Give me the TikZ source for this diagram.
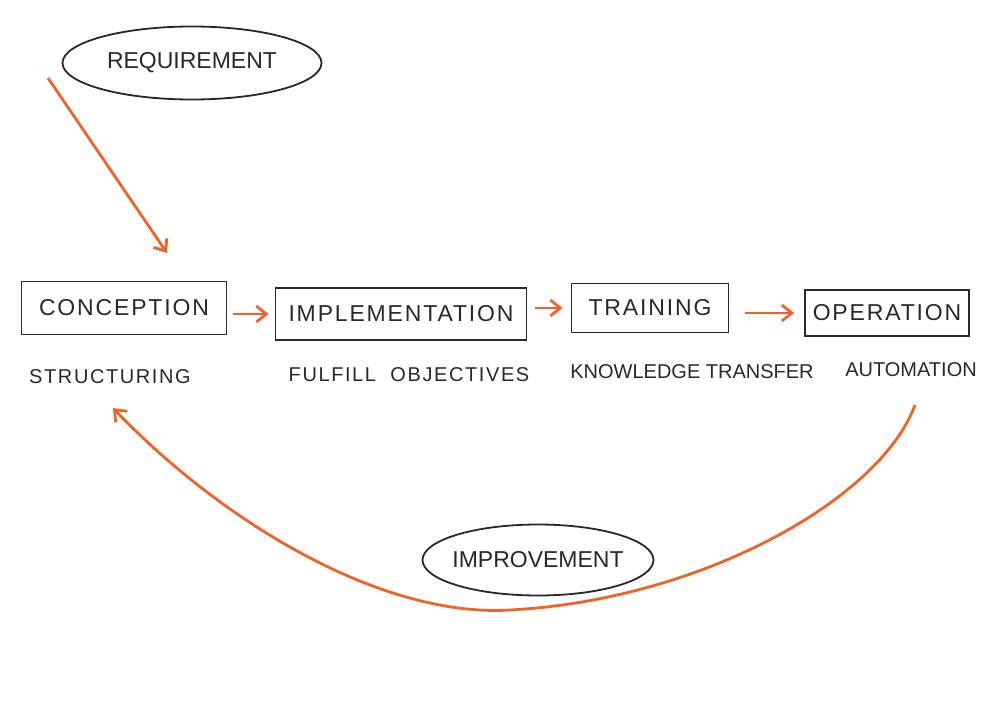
\documentclass[tikz,border=0pt]{standalone}
\usepackage{fontspec}
\usetikzlibrary{shapes.geometric,arrows.meta}
\newfontfamily\hand[LetterSpace=8]{Liberation Sans}
\newfontfamily\handtight{Liberation Sans}
\definecolor{pen}{RGB}{40,40,40}
\definecolor{marker}{RGB}{240,98,40}

\begin{document}
\begin{tikzpicture}[x=0.5pt,y=-0.5pt,
		box/.style={draw=pen,line width=0.9pt,inner sep=0pt,text=pen,font=\hand\fontsize{11.5}{13}\selectfont},
		bubble/.style={draw=pen,ellipse,line width=0.9pt,inner xsep=-20pt,inner ysep=-6pt,text=pen,font=\handtight\fontsize{11.5}{13}\selectfont},
		note/.style={text=pen,font=\hand\fontsize{10}{12}\selectfont},
		tightnote/.style={text=pen,font=\handtight\fontsize{10}{12}\selectfont},
		flow/.style={draw=marker,line width=1.4pt,-{Straight Barb[length=5pt,width=8pt]}}]
			\useasboundingbox (0,0) rectangle (1000,705);
			
			\node[bubble,minimum width=129.5pt,minimum height=36.5pt] (req) at (192,63) {REQUIREMENT};
			\node[bubble,minimum width=115.5pt,minimum height=35.5pt] (impr) at (538,560) {IMPROVEMENT};
			
			\node[box,minimum width=102.5pt,minimum height=26.5pt] (conc) at (124,308) {CONCEPTION};
			\node[box,minimum width=125.5pt,minimum height=26pt] (impl) at (401,314) {IMPLEMENTATION};
			\node[box,minimum width=78.5pt,minimum height=24.5pt] (train) at (650,308) {TRAINING};
			\node[box,minimum width=82pt,minimum height=23pt] (oper) at (887,313) {OPERATION};
			
			\node[note] (struct) at (110,377) {STRUCTURING};
			\node[note] (fulfil) at (409,375) {FULFILL\ \ OBJECTIVES};
			\node[tightnote] (know) at (692,372) {KNOWLEDGE TRANSFER};
			\node[tightnote] (auto) at (911,370) {AUTOMATION};
			
			\draw[flow,shorten <=3pt,shorten >=3pt] (conc.east |- impl.west) -- (impl.west);
			\draw[flow,shorten <=4pt,shorten >=4pt] (impl.east |- train.west) -- (train.west);
			\draw[flow,shorten <=8pt,shorten >=5pt] (train.east |- oper.west) -- (oper.west);
			
			\coordinate (reqtail) at (48,78);
			\coordinate (reqhead) at (167,253);
			\draw[flow] (reqtail) -- (reqhead);
			
			\coordinate (loopstart) at (915,405);
			\coordinate (loopend) at (113,408);
			\draw[flow] (loopstart) .. controls (880,500) and (700,600) .. (510,610) .. controls (380,618) and (220,520) .. (loopend);
		\end{tikzpicture}
\end{document}
